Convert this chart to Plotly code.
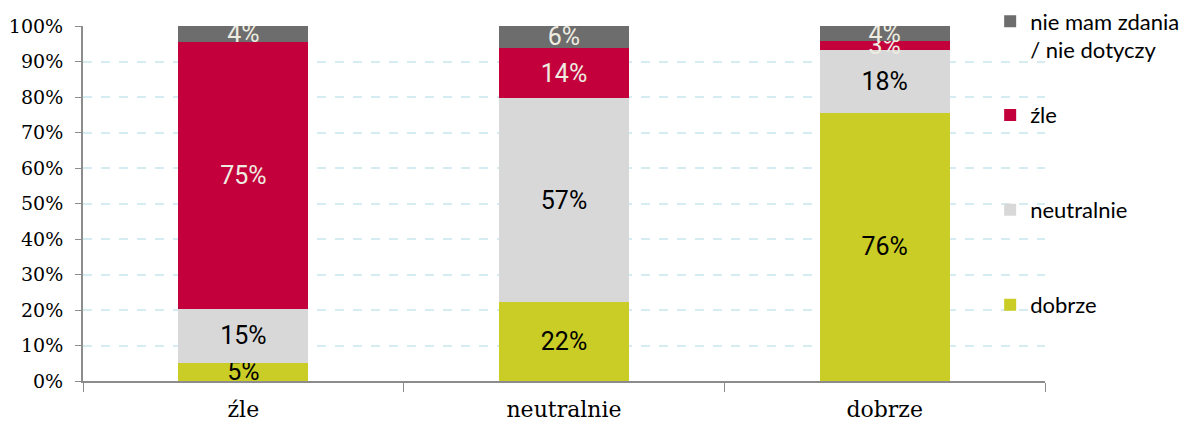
import plotly.graph_objects as go

categories = ["źle", "neutralnie", "dobrze"]
dobrze = [5.1, 22.3, 75.6]
neutralnie = [15.2, 57.3, 17.6]
zle = [75.3, 14.3, 2.6]
nie_mam = [4.4, 6.1, 4.2]

series = [
    ("dobrze", dobrze, "#C9CD25", "#000000", "legend4"),
    ("neutralnie", neutralnie, "#D8D8D8", "#000000", "legend3"),
    ("źle", zle, "#C3003C", "#EEECE1", "legend2"),
    ("nie mam zdania<br>/ nie dotyczy", nie_mam, "#6D6D6D", "#EEECE1", "legend"),
]

fig = go.Figure()
for name, vals, color, tcolor, leg in series:
    fig.add_trace(go.Bar(
        x=categories, y=vals, name=name,
        marker=dict(color=color, line=dict(width=0)),
        texttemplate="%{y:.0f}%", textposition="inside",
        insidetextanchor="middle", textangle=0,
        textfont=dict(family="Roboto, sans-serif", size=25, color=tcolor),
        legend=leg, hoverinfo="skip",
    ))

legfont = dict(family="Lato, Calibri, sans-serif", size=22, color="#000000")
def leg(y):
    return dict(x=0.943, y=y, xanchor="left", yanchor="middle", font=legfont,
                bgcolor="rgba(0,0,0,0)", borderwidth=0, valign="top",
                itemsizing="constant", itemwidth=30)

fig.update_layout(
    barmode="stack",
    bargap=0.594,
    width=1192, height=418,
    margin=dict(l=75, r=155, t=18, b=45, autoexpand=False),
    paper_bgcolor="white", plot_bgcolor="white",
    uniformtext=dict(mode="show", minsize=25),
    showlegend=True,
    legend=leg(0.972),
    legend2=leg(0.749),
    legend3=leg(0.482),
    legend4=leg(0.214),
    xaxis=dict(
        range=[-0.5, 2.5], tickson="boundaries", ticks="outside", ticklen=9,
        tickcolor="#8C8C8C", showline=True, linecolor="#8C8C8C", linewidth=2,
        tickfont=dict(family="DejaVu Serif, serif", size=22, color="#000000"),
        ticklabelstandoff=8,
        showgrid=False, automargin=False,
    ),
    yaxis=dict(
        range=[0, 100], dtick=10, ticksuffix="%", ticks="outside", ticklen=6,
        tickcolor="#8C8C8C", showline=True, linecolor="#8C8C8C", linewidth=2,
        tickfont=dict(family="DejaVu Serif, serif", size=19, color="#000000"),
        ticklabelstandoff=8,
        showgrid=True, gridcolor="#D6ECF3", griddash="dash", gridwidth=1.5,
        zeroline=False, automargin=False,
    ),
)

fig.write_html("out.html")
